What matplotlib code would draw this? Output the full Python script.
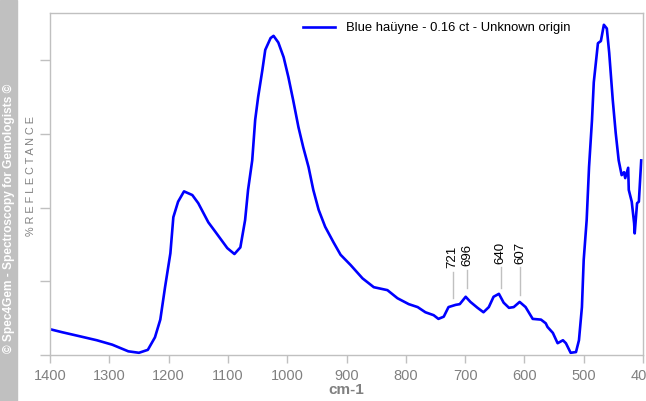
import matplotlib
matplotlib.use("Agg")
import matplotlib.pyplot as plt
from matplotlib.patches import Rectangle

wavenumber = [1400, 1380, 1353, 1321, 1295, 1268, 1250, 1235, 1223, 1214, 1206, 1197,
              1192, 1184, 1174, 1160, 1150, 1133, 1121, 1101, 1089, 1079, 1071, 1066,
              1059, 1054, 1049, 1042, 1037, 1028, 1023, 1015, 1006, 998, 990, 981,
              973, 964, 956, 947, 936, 922, 910, 893, 873, 854, 831, 814, 795, 780,
              767, 753, 745, 736, 728, 716, 709, 699, 691, 679, 669, 660, 652, 643,
              635, 626, 618, 608, 598, 586, 572, 564, 561, 552, 544, 535, 530, 522,
              513, 508, 503, 500, 495, 491, 486, 483, 476, 471, 466, 461, 457, 451,
              446, 441, 436, 432, 430, 425, 424, 419, 415, 414, 410, 407, 403]
reflectance = [3.5, 3.1, 2.6, 2.0, 1.4, 0.5, 0.3, 0.7, 2.4, 4.8, 9.2, 13.8,
               18.7, 20.8, 22.2, 21.7, 20.6, 18.0, 16.7, 14.5, 13.7, 14.6, 18.3, 22.4,
               26.4, 31.9, 35.0, 38.6, 41.4, 43.0, 43.3, 42.4, 40.4, 37.7, 34.6, 30.9,
               28.2, 25.5, 22.4, 19.7, 17.4, 15.3, 13.6, 12.2, 10.4, 9.2, 8.8, 7.7, 6.9, 6.5,
               5.8, 5.4, 4.9, 5.2, 6.5, 6.8, 6.9, 7.9, 7.2, 6.4, 5.8, 6.5, 7.9, 8.3,
               7.1, 6.4, 6.5, 7.2, 6.5, 4.9, 4.8, 4.3, 3.8, 3.0, 1.6, 2.0, 1.6, 0.3,
               0.4, 2.0, 6.5, 12.9, 18.3, 25.5, 31.9, 37.0, 42.3, 42.6, 44.8, 44.3, 41.0, 34.6,
               30.1, 26.4, 24.4, 24.8, 24.0, 25.4, 22.4, 20.8, 17.9, 16.5, 20.6, 20.8, 26.4]

peak_labels = ["721", "696", "640", "607"]
peak_pos = [721, 696, 640, 607]
peak_line_bottom = [7.7, 9.1, 9.1, 8.1]
peak_line_top = [11.3, 11.6, 11.9, 11.9]

legend_label = "Blue haüyne - 0.16 ct - Unknown origin"

grey_txt = "#808080"
spine_c = "#c0c0c0"

fig = plt.figure(figsize=(6.46, 4.01), dpi=100)
ax = fig.add_axes([50 / 646, 46 / 401, 593 / 646, 342 / 401])

# left strip
fig.patches.append(Rectangle((0, 0), 17 / 646, 1, transform=fig.transFigure,
                             color="#c0c0c0", zorder=0))
fig.text(9 / 646, 1 - 218 / 401, "© Spec4Gem - Spectroscopy for Gemologists ©",
         rotation=90, color="white", fontsize=8.6, fontweight="bold",
         family="Liberation Sans", ha="center", va="center")

ax.plot(wavenumber, reflectance, color="#0000ff", lw=1.9, label=legend_label)

for lab, p, b, t in zip(peak_labels, peak_pos, peak_line_bottom, peak_line_top):
    ax.plot([p, p], [b, t], color="#c0c0c0", lw=1)
    ax.text(p, t + 0.5, lab, rotation=90, ha="center", va="bottom",
            fontsize=9.5, family="Liberation Sans", color="black")

ax.set_xlim(1400, 400)
ax.set_ylim(0, 46.4)
ax.set_xticks([1400, 1300, 1200, 1100, 1000, 900, 800, 700, 600, 500, 400])
ax.set_yticks([0, 10, 20, 30, 40])
ax.set_yticklabels([])
ax.tick_params(axis="x", colors=spine_c, labelcolor=grey_txt, length=6, width=1,
               labelsize=10.5, pad=4)
ax.tick_params(axis="y", colors=spine_c, length=7, width=1)
for lab in ax.get_xticklabels():
    lab.set_family("Liberation Sans")
for s in ax.spines.values():
    s.set_color(spine_c)
    s.set_linewidth(1)

ax.set_xlabel("cm-1", color=grey_txt, fontsize=11, fontweight="bold",
              family="Liberation Sans", labelpad=0)
fig.text(31 / 646, 1 - 176 / 401, "% R E F L E C T A N C E", rotation=90,
         color=grey_txt, fontsize=7.8, family="Liberation Sans",
         ha="center", va="center")

leg = ax.legend(loc="upper left", bbox_to_anchor=((298 - 50) / 593, 1 - 4 / 342),
                frameon=False, prop={"family": "Liberation Sans", "size": 9.4},
                handlelength=2.4, handletextpad=0.9, borderaxespad=0)

fig.savefig("out.png", dpi=100)
